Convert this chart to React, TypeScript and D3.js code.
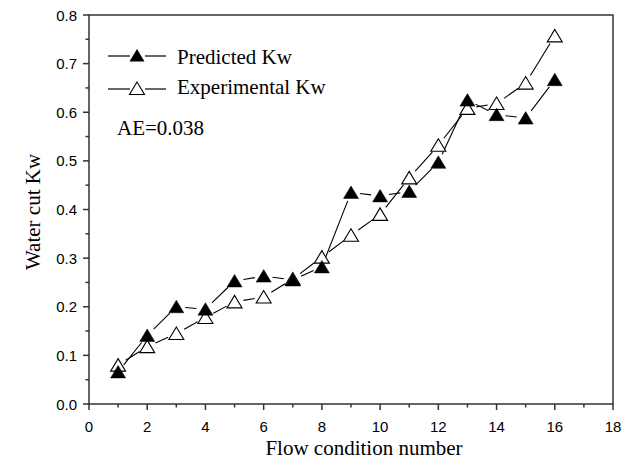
import React from 'react';
import * as d3 from 'd3';

const conditions = [1, 2, 3, 4, 5, 6, 7, 8, 9, 10, 11, 12, 13, 14, 15, 16];
const predicted = [0.066, 0.141, 0.2, 0.195, 0.253, 0.263, 0.255, 0.282, 0.435, 0.428, 0.437, 0.497, 0.625, 0.595, 0.588, 0.667];
const experimental = [0.08, 0.118, 0.145, 0.178, 0.21, 0.22, 0.257, 0.302, 0.347, 0.39, 0.465, 0.532, 0.608, 0.618, 0.66, 0.757];
const xTicks = [0, 2, 4, 6, 8, 10, 12, 14, 16, 18];
const xMinor = [1, 3, 5, 7, 9, 11, 13, 15, 17];
const yTicks = [0.0, 0.1, 0.2, 0.3, 0.4, 0.5, 0.6, 0.7, 0.8];
const yMinor = [0.05, 0.15, 0.25, 0.35, 0.45, 0.55, 0.65, 0.75];

const width = 641;
const height = 463;
const marginLeft = 89;
const marginRight = 28;
const marginTop = 15;
const marginBottom = 59;

const serif = '"Liberation Serif", "Times New Roman", serif';
const sans = '"Liberation Sans", Arial, sans-serif';

// Origin-like triangle, a bit wider than tall, centred on its box
const tri = 'M0,-6.5L7.5,6L-7.5,6Z';

// segments that stop short of the markers
const gapSegments = (pts: [number, number][], gap: number) => {
    const segs: string[] = [];
    for (let i = 0; i < pts.length - 1; i++) {
        const [x0, y0] = pts[i];
        const [x1, y1] = pts[i + 1];
        const len = Math.hypot(x1 - x0, y1 - y0);
        if (len <= gap * 2) continue;
        const ux = (x1 - x0) / len, uy = (y1 - y0) / len;
        segs.push(`M${x0 + ux * gap},${y0 + uy * gap}L${x1 - ux * gap},${y1 - uy * gap}`);
    }
    return segs.join('');
};

const App = () => {
    const x = d3.scaleLinear().domain([0, 18]).range([marginLeft, width - marginRight]);
    const y = d3.scaleLinear().domain([0, 0.8]).range([height - marginBottom, marginTop]);
    const predPts = conditions.map((c, i) => [x(c), y(predicted[i])] as [number, number]);
    const expPts = conditions.map((c, i) => [x(c), y(experimental[i])] as [number, number]);
    const x0 = x(0), x1 = x(18), y0 = y(0), y1 = y(0.8);

    return (
        <svg width={width} height={height} style={{ position: 'absolute', left: 0, top: 0, background: '#fff' }}>
            <path d={gapSegments(predPts, 9)} stroke="#000" strokeWidth={1.1} fill="none" />
            <path d={gapSegments(expPts, 9)} stroke="#000" strokeWidth={1.1} fill="none" />
            {expPts.map((p, i) => (
                <path key={'e' + i} d={tri} transform={`translate(${p[0]},${p[1]})`} fill="#fff" stroke="#000" strokeWidth={1.1} />
            ))}
            {predPts.map((p, i) => (
                <path key={'p' + i} d={tri} transform={`translate(${p[0]},${p[1]})`} fill="#000" stroke="#000" strokeWidth={0.5} />
            ))}

            <rect x={x0} y={y1} width={x1 - x0} height={y0 - y1} fill="none" stroke="#333" strokeWidth={1.5} />

            {xTicks.map(t => (
                <g key={'xt' + t}>
                    <line x1={x(t)} x2={x(t)} y1={y0} y2={y0 + 6} stroke="#333" strokeWidth={1.5} />
                    <text x={x(t)} y={y0 + 28} textAnchor="middle" fontFamily={sans} fontSize={15}>{t}</text>
                </g>
            ))}
            {xMinor.map(t => (
                <line key={'xm' + t} x1={x(t)} x2={x(t)} y1={y0} y2={y0 + 3.5} stroke="#333" strokeWidth={1.5} />
            ))}
            {yTicks.map(t => (
                <g key={'yt' + t}>
                    <line x1={x0 - 6} x2={x0} y1={y(t)} y2={y(t)} stroke="#333" strokeWidth={1.5} />
                    <text x={x0 - 12} y={y(t) + 5.5} textAnchor="end" fontFamily={sans} fontSize={15}>{d3.format('.1f')(t)}</text>
                </g>
            ))}
            {yMinor.map(t => (
                <line key={'ym' + t} x1={x0 - 3.5} x2={x0} y1={y(t)} y2={y(t)} stroke="#333" strokeWidth={1.5} />
            ))}

            <text x={364} y={455} textAnchor="middle" fontFamily={serif} fontSize={21}>Flow condition number</text>
            <text transform="translate(40,212) rotate(-90)" textAnchor="middle" fontFamily={serif} fontSize={21}>Water cut Kw</text>

            <g>
                <line x1={108} x2={130} y1={56} y2={56} stroke="#000" strokeWidth={1.2} />
                <line x1={145} x2={166} y1={56} y2={56} stroke="#000" strokeWidth={1.2} />
                <path d={tri} transform="translate(137,55.5)" fill="#000" />
                <text x={177} y={64} fontFamily={serif} fontSize={21}>Predicted Kw</text>
                <line x1={108} x2={130} y1={89} y2={89} stroke="#000" strokeWidth={1.2} />
                <line x1={145} x2={166} y1={89} y2={89} stroke="#000" strokeWidth={1.2} />
                <path d={tri} transform="translate(137,88.5)" fill="#fff" stroke="#000" strokeWidth={1.1} />
                <text x={177} y={94} fontFamily={serif} fontSize={21}>Experimental Kw</text>
                <text x={117} y={135} fontFamily={serif} fontSize={21}>AE=0.038</text>
            </g>
        </svg>
    );
};

export default App;
